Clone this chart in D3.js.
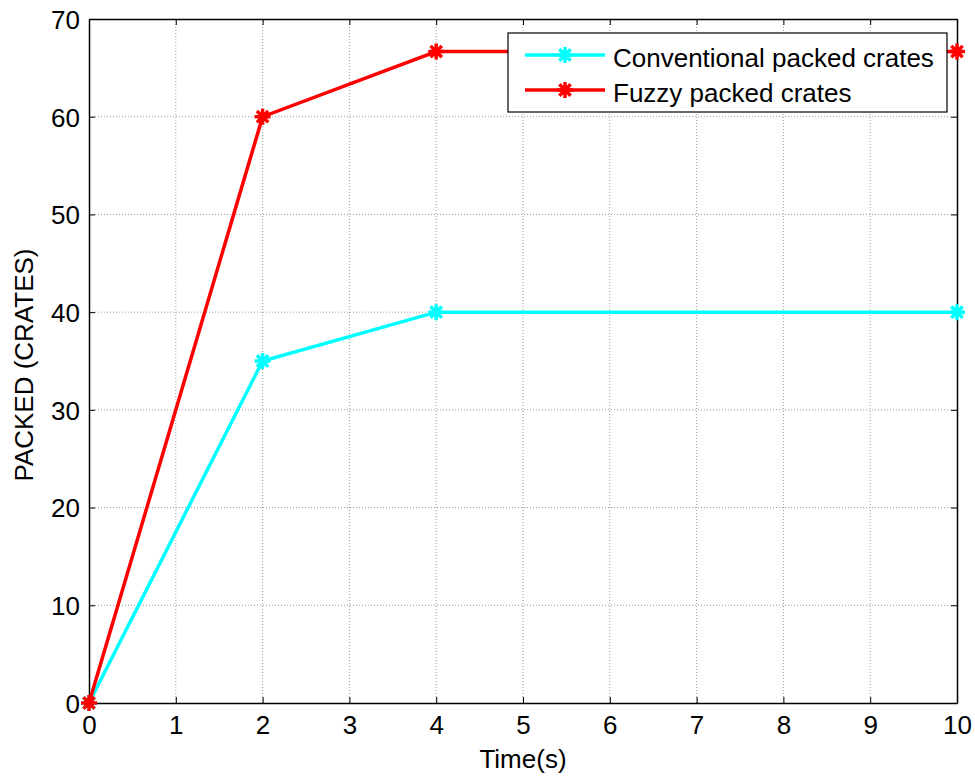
<!DOCTYPE html>
<html>
<head>
<meta charset="utf-8">
<script src="https://cdn.jsdelivr.net/npm/d3@7"></script>
<style>
    body { margin: 0; background: #fff; }
    text { font-family: "Liberation Sans", Arial, sans-serif; fill: #000; }
</style>
</head>
<body>
<script>
(function(){
    // chart data
    var timeValues = [0, 2, 4, 10];
    var conventionalCrates = [0, 35, 40, 40];
    var fuzzyCrates = [0, 60, 66.67, 66.67];
    var seriesNames = ["Conventional packed crates", "Fuzzy packed crates"];
    var xTicks = [0, 1, 2, 3, 4, 5, 6, 7, 8, 9, 10];
    var yTicks = [0, 10, 20, 30, 40, 50, 60, 70];

    var width = 975, height = 778;
    var margin = {left: 89, right: 18, top: 19, bottom: 75};
    var fontSize = "26px";

    var svg = d3.select("body").append("svg")
        .attr("width", width)
        .attr("height", height);

    var x = d3.scaleLinear().domain([0, 10]).range([margin.left, width - margin.right]);
    var y = d3.scaleLinear().domain([0, 70]).range([height - margin.bottom, margin.top]);

    // grid lines (dotted)
    var grid = svg.append("g").attr("class", "grid");
    grid.selectAll(".vgrid")
        .data(xTicks.slice(1, -1))
        .enter()
        .append("line")
        .attr("x1", function(d){ return x(d); })
        .attr("x2", function(d){ return x(d); })
        .attr("y1", y(0))
        .attr("y2", y(70))
        .attr("stroke", "#9a9a9a")
        .attr("stroke-width", 1)
        .attr("stroke-dasharray", "1,2");
    grid.selectAll(".hgrid")
        .data(yTicks.slice(1, -1))
        .enter()
        .append("line")
        .attr("x1", x(0))
        .attr("x2", x(10))
        .attr("y1", function(d){ return y(d); })
        .attr("y2", function(d){ return y(d); })
        .attr("stroke", "#9a9a9a")
        .attr("stroke-width", 1)
        .attr("stroke-dasharray", "1,2");

    // axes (ticks inside)
    var xAxis = svg.append("g")
        .attr("transform", "translate(0," + y(0) + ")")
        .call(d3.axisBottom(x).tickValues(xTicks).tickSizeInner(-6).tickSizeOuter(0).tickPadding(13));
    var xAxisTop = svg.append("g")
        .attr("transform", "translate(0," + y(70) + ")")
        .call(d3.axisTop(x).tickValues(xTicks).tickSizeInner(-6).tickSizeOuter(0).tickFormat(""));
    var yAxis = svg.append("g")
        .attr("transform", "translate(" + x(0) + ",0)")
        .call(d3.axisLeft(y).tickValues(yTicks).tickSizeInner(-6).tickSizeOuter(0).tickPadding(9));
    var yAxisRight = svg.append("g")
        .attr("transform", "translate(" + x(10) + ",0)")
        .call(d3.axisRight(y).tickValues(yTicks).tickSizeInner(-6).tickSizeOuter(0).tickFormat(""));

    [xAxis, xAxisTop, yAxis, yAxisRight].forEach(function(a){
        a.selectAll("path").attr("stroke", "#000").attr("stroke-width", 1.5);
        a.selectAll("line").attr("stroke", "#000").attr("stroke-width", 1);
        a.selectAll("text")
            .style("font-family", "'Liberation Sans', Arial, sans-serif")
            .style("font-size", fontSize)
            .attr("fill", "#000");
    });
    yAxis.selectAll("text").attr("dy", "0.36em");

    // axis labels
    svg.append("text")
        .attr("x", x(5))
        .attr("y", 768)
        .attr("text-anchor", "middle")
        .style("font-size", fontSize)
        .text("Time(s)");

    svg.append("text")
        .attr("transform", "translate(33,365) rotate(-90)")
        .attr("text-anchor", "middle")
        .style("font-size", fontSize)
        .text("PACKED (CRATES)");

    // asterisk marker
    function starPath(r){
        var d = r * Math.SQRT1_2;
        return "M" + (-r) + ",0L" + r + ",0M0," + (-r) + "L0," + r +
               "M" + (-d) + "," + (-d) + "L" + d + "," + d +
               "M" + (-d) + "," + d + "L" + d + "," + (-d);
    }

    var series = [
        {name: seriesNames[0], values: conventionalCrates, color: "#00ffff"},
        {name: seriesNames[1], values: fuzzyCrates, color: "#ff0000"}
    ];

    var line = d3.line()
        .x(function(d, i){ return x(timeValues[i]); })
        .y(function(d){ return y(d); });

    series.forEach(function(s){
        svg.append("path")
            .datum(s.values)
            .attr("fill", "none")
            .attr("stroke", s.color)
            .attr("stroke-width", 3.5)
            .attr("d", line);

        svg.selectAll(null)
            .data(s.values)
            .enter()
            .append("path")
            .attr("transform", function(d, i){ return "translate(" + x(timeValues[i]) + "," + y(d) + ")"; })
            .attr("d", starPath(8))
            .attr("stroke", s.color)
            .attr("stroke-width", 3.5)
            .attr("fill", "none");
    });

    // legend
    var legend = svg.append("g").attr("transform", "translate(508,33)");
    legend.append("rect")
        .attr("width", 439)
        .attr("height", 79)
        .attr("fill", "#fff")
        .attr("stroke", "#000")
        .attr("stroke-width", 1.2);

    var items = legend.selectAll(".item")
        .data(series)
        .enter()
        .append("g")
        .attr("transform", function(d, i){ return "translate(0," + (22 + i * 35) + ")"; });
    items.append("line")
        .attr("x1", 17).attr("x2", 97)
        .attr("stroke", function(d){ return d.color; })
        .attr("stroke-width", 3.5);
    items.append("path")
        .attr("transform", "translate(57,0)")
        .attr("d", starPath(8))
        .attr("stroke", function(d){ return d.color; })
        .attr("stroke-width", 3.5)
        .attr("fill", "none");
    items.append("text")
        .attr("x", 105)
        .attr("y", 12)
        .style("font-size", fontSize)
        .text(function(d){ return d.name; });
})();
</script>
</body>
</html>
